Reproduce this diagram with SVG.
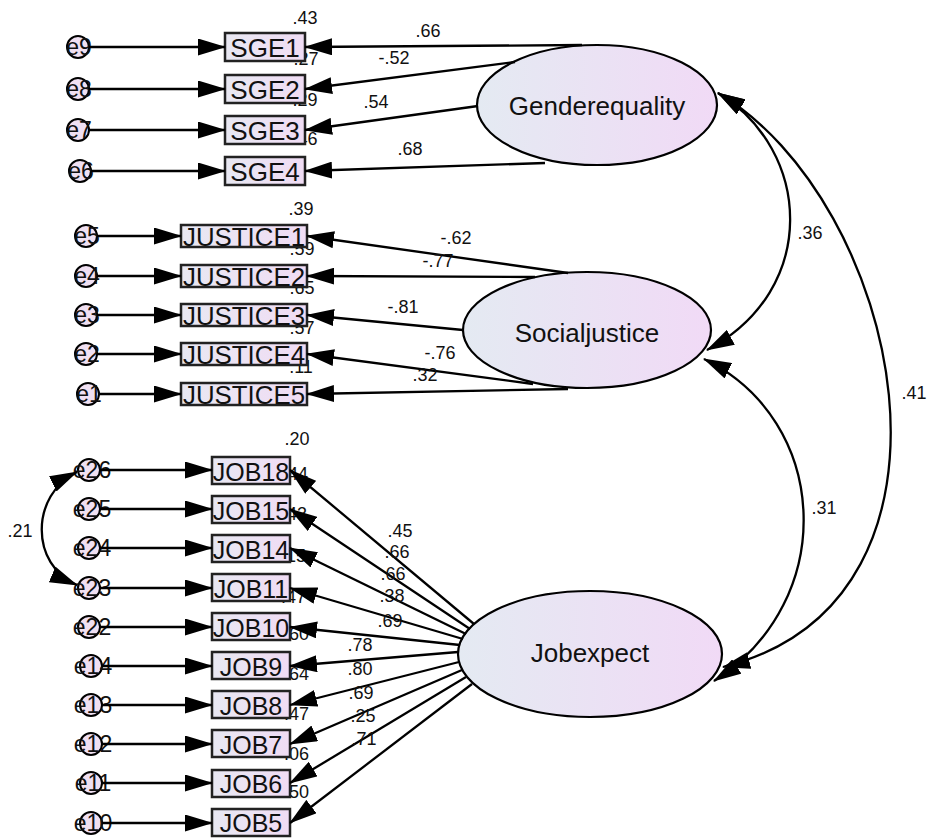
<svg xmlns="http://www.w3.org/2000/svg" width="928" height="839" viewBox="0 0 928 839">
<defs>
<linearGradient id="latg" x1="0" y1="0" x2="1" y2="0">
<stop offset="0" stop-color="#e4eaf2"/>
<stop offset="1" stop-color="#f1daf6"/>
</linearGradient>
<linearGradient id="boxg" x1="0" y1="0" x2="1" y2="0">
<stop offset="0" stop-color="#e8e8f2"/>
<stop offset="1" stop-color="#f0dcf4"/>
</linearGradient>
<marker id="ah" markerUnits="userSpaceOnUse" viewBox="0 0 28 17" markerWidth="28" markerHeight="17" refX="27" refY="8.5" orient="auto-start-reverse">
<path d="M0,0 L28,8.5 L0,17 z" fill="#000"/>
</marker>
<style>
.lat{fill:url(#latg);stroke:#000;stroke-width:2.2}
.box{fill:url(#boxg);stroke:#222;stroke-width:2.5}
.err{fill:#f0e0f2;stroke:#000;stroke-width:2}
.ln{fill:none;stroke:#000;stroke-width:2.3;marker-end:url(#ah)}
.cv{fill:none;stroke:#000;stroke-width:2.3;marker-start:url(#ah);marker-end:url(#ah)}
.lt{font-family:"Liberation Sans",Arial,sans-serif;font-size:26px;fill:#111;text-anchor:middle}
.bt{font-family:"Liberation Sans",Arial,sans-serif;font-size:25px;fill:#111;text-anchor:middle}
.bt26{font-family:"Liberation Sans",Arial,sans-serif;font-size:26px;fill:#111;text-anchor:middle}
.et{font-family:"Liberation Sans",Arial,sans-serif;font-size:23px;fill:#111;text-anchor:middle}
.nb{font-family:"Liberation Sans",Arial,sans-serif;font-size:18px;fill:#111;text-anchor:middle}
.nr{font-family:"Liberation Sans",Arial,sans-serif;font-size:18px;fill:#111}
</style>
</defs>
<rect width="928" height="839" fill="#fff"/>

<!-- latent variables -->
<g id="Genderequality"><ellipse class="lat" cx="597" cy="105" rx="120" ry="60"/><text class="lt" x="597" y="115">Genderequality</text></g>
<g id="Socialjustice"><ellipse class="lat" cx="587" cy="330" rx="124" ry="58"/><text class="lt" x="587" y="342">Socialjustice</text></g>
<g id="Jobexpect"><ellipse class="lat" cx="590" cy="654" rx="132" ry="63"/><text class="lt" x="590" y="662">Jobexpect</text></g>

<!-- SGE observed -->
<g id="SGE4"><text class="nb" x="305" y="145">.46</text><rect class="box" x="225" y="157" width="80" height="28"/><text class="bt26" x="265" y="181">SGE4</text></g>
<g id="SGE3"><text class="nb" x="305" y="106">.29</text><rect class="box" x="225" y="116" width="80" height="28"/><text class="bt26" x="265" y="140">SGE3</text></g>
<g id="SGE2"><text class="nb" x="306" y="65">.27</text><rect class="box" x="225" y="75" width="80" height="28"/><text class="bt26" x="265" y="99">SGE2</text></g>
<g id="SGE1"><text class="nb" x="305" y="24">.43</text><rect class="box" x="225" y="33" width="80" height="28"/><text class="bt26" x="265" y="57">SGE1</text></g>

<!-- JUSTICE observed -->
<g id="JUSTICE5"><text class="nb" x="301" y="373">.11</text><rect class="box" x="181" y="383" width="126" height="22"/><text class="bt26" x="244" y="404" textLength="122" lengthAdjust="spacingAndGlyphs">JUSTICE5</text></g>
<g id="JUSTICE4"><text class="nb" x="302" y="334">.57</text><rect class="box" x="181" y="343" width="126" height="22"/><text class="bt26" x="244" y="364" textLength="122" lengthAdjust="spacingAndGlyphs">JUSTICE4</text></g>
<g id="JUSTICE3"><text class="nb" x="302" y="294">.65</text><rect class="box" x="181" y="304" width="126" height="22"/><text class="bt26" x="244" y="325" textLength="122" lengthAdjust="spacingAndGlyphs">JUSTICE3</text></g>
<g id="JUSTICE2"><text class="nb" x="302" y="255">.59</text><rect class="box" x="181" y="265" width="126" height="22"/><text class="bt26" x="244" y="286" textLength="122" lengthAdjust="spacingAndGlyphs">JUSTICE2</text></g>
<g id="JUSTICE1"><text class="nb" x="301" y="215">.39</text><rect class="box" x="181" y="225" width="126" height="22"/><text class="bt26" x="244" y="246" textLength="122" lengthAdjust="spacingAndGlyphs">JUSTICE1</text></g>

<!-- JOB observed (drawn bottom-up) -->
<g id="JOB5"><text class="nr" x="284" y="798">.50</text><rect class="box" x="212" y="809" width="78" height="27"/><text class="bt" x="251" y="832">JOB5</text></g>
<g id="JOB6"><text class="nr" x="284" y="760">.06</text><rect class="box" x="212" y="770" width="78" height="27"/><text class="bt" x="251" y="793">JOB6</text></g>
<g id="JOB7"><text class="nr" x="284" y="720">.47</text><rect class="box" x="212" y="730" width="78" height="27"/><text class="bt" x="251" y="754">JOB7</text></g>
<g id="JOB8"><text class="nr" x="284" y="680">.64</text><rect class="box" x="212" y="691" width="78" height="27"/><text class="bt" x="251" y="715">JOB8</text></g>
<g id="JOB9"><text class="nr" x="284" y="640">.60</text><rect class="box" x="212" y="652" width="78" height="27"/><text class="bt" x="251" y="676">JOB9</text></g>
<g id="JOB10"><text class="nr" x="281" y="603">.47</text><rect class="box" x="212" y="613" width="78" height="27"/><text class="bt" x="251" y="637">JOB10</text></g>
<g id="JOB11"><text class="nr" x="281" y="562">.15</text><rect class="box" x="212" y="574" width="78" height="27"/><text class="bt" x="251" y="598">JOB11</text></g>
<g id="JOB14"><text class="nr" x="282" y="520">.43</text><rect class="box" x="212" y="535" width="78" height="27"/><text class="bt" x="251" y="559">JOB14</text></g>
<g id="JOB15"><text class="nr" x="283" y="480">.44</text><rect class="box" x="212" y="496" width="78" height="27"/><text class="bt" x="251" y="520">JOB15</text></g>
<g id="JOB18"><text class="nb" x="297" y="445">.20</text><rect class="box" x="212" y="457" width="78" height="27"/><text class="bt" x="251" y="481">JOB18</text></g>

<!-- error terms -->
<g id="e9"><circle class="err" cx="78" cy="47" r="11"/><text class="et" x="79" y="55">e9</text></g>
<g id="e8"><circle class="err" cx="78" cy="89" r="11"/><text class="et" x="79" y="97">e8</text></g>
<g id="e7"><circle class="err" cx="78" cy="130" r="11"/><text class="et" x="79" y="138">e7</text></g>
<g id="e6"><circle class="err" cx="80" cy="171" r="11"/><text class="et" x="81" y="179">e6</text></g>
<g id="e5"><circle class="err" cx="86" cy="236" r="11"/><text class="et" x="87" y="244">e5</text></g>
<g id="e4"><circle class="err" cx="86" cy="276" r="11"/><text class="et" x="87" y="284">e4</text></g>
<g id="e3"><circle class="err" cx="86" cy="315" r="11"/><text class="et" x="87" y="323">e3</text></g>
<g id="e2"><circle class="err" cx="86" cy="354" r="11"/><text class="et" x="87" y="362">e2</text></g>
<g id="e1"><circle class="err" cx="88" cy="394" r="11"/><text class="et" x="89" y="402">e1</text></g>
<g id="e26"><circle class="err" cx="89" cy="470" r="11"/><text class="et" x="92" y="478">e26</text></g>
<g id="e25"><circle class="err" cx="89" cy="509" r="11"/><text class="et" x="92" y="517">e25</text></g>
<g id="e24"><circle class="err" cx="89" cy="548" r="11"/><text class="et" x="92" y="556">e24</text></g>
<g id="e23"><circle class="err" cx="89" cy="588" r="11"/><text class="et" x="92" y="596">e23</text></g>
<g id="e22"><circle class="err" cx="89" cy="627" r="11"/><text class="et" x="92" y="635">e22</text></g>
<g id="e14"><circle class="err" cx="91" cy="666" r="11"/><text class="et" x="93" y="674">e14</text></g>
<g id="e13"><circle class="err" cx="91" cy="705" r="11"/><text class="et" x="93" y="713">e13</text></g>
<g id="e12"><circle class="err" cx="91" cy="744" r="11"/><text class="et" x="93" y="752">e12</text></g>
<g id="e11"><circle class="err" cx="91" cy="783" r="11"/><text class="et" x="93" y="791">e11</text></g>
<g id="e10"><circle class="err" cx="91" cy="823" r="11"/><text class="et" x="93" y="831">e10</text></g>

<!-- connectors -->
<g id="connectors">
<path class="ln" d="M89,47 L225,47"/>
<path class="ln" d="M89,89 L225,89"/>
<path class="ln" d="M89,130 L225,130"/>
<path class="ln" d="M91,171 L225,171"/>
<path class="ln" d="M97,236 L181,236"/>
<path class="ln" d="M97,276 L181,276"/>
<path class="ln" d="M97,315 L181,315"/>
<path class="ln" d="M97,354 L181,354"/>
<path class="ln" d="M99,394 L181,394"/>
<path class="ln" d="M100,470 L212,470"/>
<path class="ln" d="M100,509 L212,509"/>
<path class="ln" d="M100,548 L212,548"/>
<path class="ln" d="M100,588 L212,588"/>
<path class="ln" d="M100,627 L212,627"/>
<path class="ln" d="M102,666 L212,666"/>
<path class="ln" d="M102,705 L212,705"/>
<path class="ln" d="M102,744 L212,744"/>
<path class="ln" d="M102,783 L212,783"/>
<path class="ln" d="M102,823 L212,823"/>

<path class="ln" d="M582,45 L305,47"/>
<path class="ln" d="M515,62 L305,89"/>
<path class="ln" d="M478,106 L305,130"/>
<path class="ln" d="M545,163 L305,171"/>

<path class="ln" d="M568,273 L307,236"/>
<path class="ln" d="M535,277 L307,276"/>
<path class="ln" d="M463,330 L307,315"/>
<path class="ln" d="M533,384 L307,354"/>
<path class="ln" d="M568,389 L307,394"/>

<path class="ln" d="M474,624 L290,470"/>
<path class="ln" d="M470,629 L290,509"/>
<path class="ln" d="M466,634 L290,548"/>
<path class="ln" d="M463,639 L290,588"/>
<path class="ln" d="M460,645 L290,627"/>
<path class="ln" d="M458,652 L290,666"/>
<path class="ln" d="M459,662 L290,705"/>
<path class="ln" d="M462,670 L290,744"/>
<path class="ln" d="M466,677 L290,783"/>
<path class="ln" d="M472,684 L290,823"/>

<path class="cv" d="M718,93 C812,150 820,290 707,350"/>
<path class="cv" d="M718,93 C900,200 990,600 723,667"/>
<path class="cv" d="M704,359 C830,420 840,600 714,681"/>
<path class="cv" d="M77,472 C30,495 30,565 77,585"/>
</g>

<!-- path labels -->
<g id="labels">
<text class="nb" x="428" y="37">.66</text>
<text class="nb" x="394" y="64">-.52</text>
<text class="nb" x="376" y="108">.54</text>
<text class="nb" x="410" y="155">.68</text>
<text class="nb" x="456" y="244">-.62</text>
<text class="nb" x="438" y="267">-.77</text>
<text class="nb" x="403" y="313">-.81</text>
<text class="nb" x="440" y="359">-.76</text>
<text class="nb" x="425" y="381">.32</text>
<text class="nb" x="810" y="239">.36</text>
<text class="nb" x="914" y="399">.41</text>
<text class="nb" x="824" y="514">.31</text>
<text class="nb" x="20" y="537">.21</text>
<text class="nb" x="400" y="537">.45</text>
<text class="nb" x="397" y="558">.66</text>
<text class="nb" x="393" y="580">.66</text>
<text class="nb" x="392" y="602">.38</text>
<text class="nb" x="390" y="627">.69</text>
<text class="nb" x="360" y="651">.78</text>
<text class="nb" x="360" y="675">.80</text>
<text class="nb" x="361" y="699">.69</text>
<text class="nb" x="363" y="722">.25</text>
<text class="nb" x="364" y="745">.71</text>
</g>
</svg>
